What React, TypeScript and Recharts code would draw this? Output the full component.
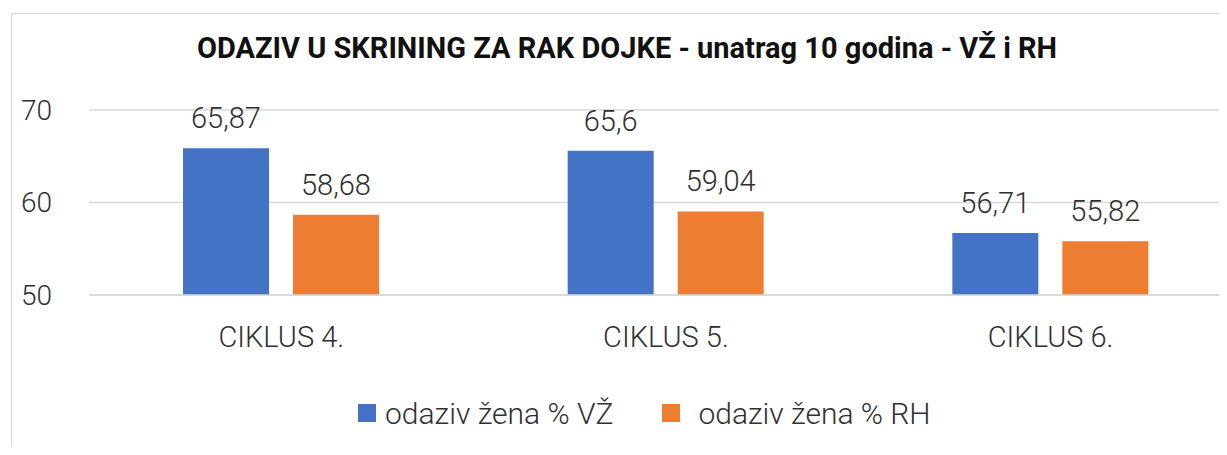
import React from 'react';
import { BarChart, Bar, XAxis, YAxis, CartesianGrid, Legend, LabelList } from 'recharts';

const categories = ['CIKLUS 4.', 'CIKLUS 5.', 'CIKLUS 6.'];
const valuesVZ = [65.87, 65.6, 56.71];
const valuesRH = [58.68, 59.04, 55.82];
const yTicks = [50, 60, 70];

const seriesNames = { vz: 'odaziv žena % VŽ', rh: 'odaziv žena % RH' };
const colors = { vz: '#4472C4', rh: '#ED7D31' };

const FONT = 'Roboto, "Open Sans", sans-serif';
const GRID = '#d9d9d9';
const TEXT = '#303030';

const data = categories.map((name, i) => ({ name, vz: valuesVZ[i], rh: valuesRH[i] }));

const fmt = (v: any) => String(v).replace('.', ',');

function LegendBox() {
  return (
    <div style={{ display: 'flex', alignItems: 'center', height: 40, fontFamily: FONT, fontSize: 30, fontWeight: 300, color: TEXT }}>
      <span style={{ width: 18, height: 18, background: colors.vz, marginRight: 9 }} />
      <span>{seriesNames.vz}</span>
      <span style={{ width: 18, height: 18, background: colors.rh, marginLeft: 49, marginRight: 18 }} />
      <span>{seriesNames.rh}</span>
    </div>
  );
}

export default function App() {
  return (
    <div style={{ position: 'relative', width: 1227, height: 455, margin: -8, overflow: 'hidden', background: '#fff' }}>
      <div style={{ position: 'absolute', left: 11, top: 13, width: 1400, height: 600, borderTop: `1.5px solid ${GRID}`, borderLeft: `1.5px solid ${GRID}` }} />
      <div style={{ position: 'absolute', left: 0, top: 29, width: 1254, textAlign: 'center', fontFamily: FONT, fontWeight: 700, fontSize: 29, color: '#111', lineHeight: '38px' }}>
        ODAZIV U SKRINING ZA RAK DOJKE - unatrag 10 godina - VŽ i RH
      </div>
      <div style={{ position: 'absolute', left: 0, top: 0 }}>
        <BarChart width={1260} height={455} data={data} margin={{ top: 110, right: 17, bottom: 22, left: 29 }} barSize={86} barGap={24}>
          <CartesianGrid vertical={false} stroke={GRID} strokeWidth={1.5} />
          <XAxis dataKey="name" height={98} tickSize={0} tickMargin={31} axisLine={{ stroke: GRID, strokeWidth: 1.5 }}
            tick={{ fontFamily: FONT, fontSize: 29, fill: TEXT, fontWeight: 300 }} />
          <YAxis domain={[50, 70]} ticks={yTicks} width={60} tickSize={0} tickMargin={37} axisLine={false}
            tick={{ fontFamily: FONT, fontSize: 28, fill: TEXT, fontWeight: 300 }} allowDataOverflow />
          <Legend verticalAlign="bottom" height={40} wrapperStyle={{ left: 358, width: 640 }} content={() => <LegendBox />} />
          <Bar dataKey="vz" name={seriesNames.vz} fill={colors.vz} isAnimationActive={false}>
            <LabelList dataKey="vz" position="top" offset={20} formatter={fmt} style={{ fontFamily: FONT, fontSize: 29, fill: TEXT, fontWeight: 300 }} />
          </Bar>
          <Bar dataKey="rh" name={seriesNames.rh} fill={colors.rh} isAnimationActive={false}>
            <LabelList dataKey="rh" position="top" offset={20} formatter={fmt} style={{ fontFamily: FONT, fontSize: 29, fill: TEXT, fontWeight: 300 }} />
          </Bar>
        </BarChart>
      </div>
    </div>
  );
}
